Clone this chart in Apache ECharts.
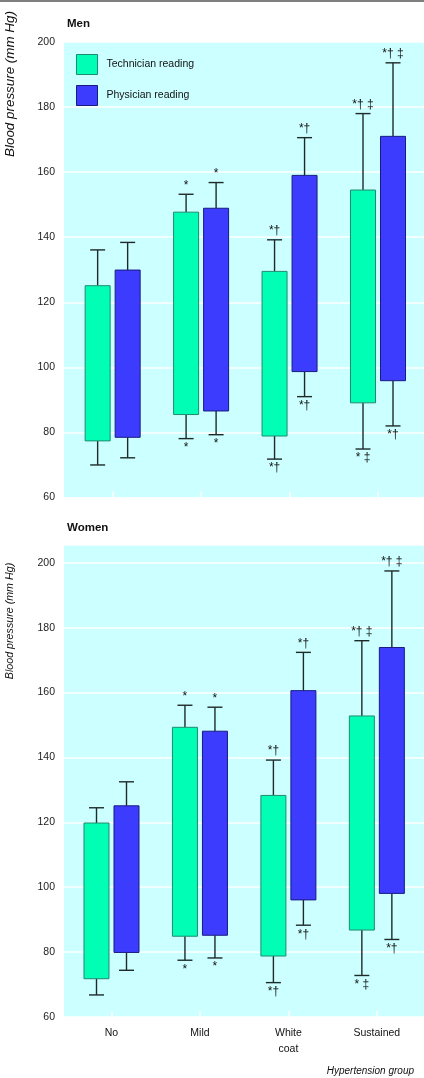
<!DOCTYPE html>
<html>
<head>
<meta charset="utf-8">
<script src="https://cdn.jsdelivr.net/npm/echarts@6/dist/echarts.min.js"></script>
<style>
html,body{margin:0;padding:0;background:#fff;}
#c{width:424px;height:1078px;}
</style>
</head>
<body>
<div id="c"></div>
<script>
const categories = ['No', 'Mild', 'White\ncoat', 'Sustained'];
const yTicks = [60, 80, 100, 120, 140, 160, 180, 200];

// Men: whisker low, box bottom, box top, whisker high
const menTechLow    = [70.0, 78.1, 71.8, 74.9];
const menTechBottom = [77.4, 85.5, 78.9, 89.1];
const menTechTop    = [125.1, 147.7, 129.5, 154.5];
const menTechHigh   = [136.1, 153.2, 139.2, 178.0];
const menPhysLow    = [72.2, 79.3, 91.0, 82.0];
const menPhysBottom = [78.5, 86.6, 98.7, 95.9];
const menPhysTop    = [129.9, 148.9, 159.0, 171.0];
const menPhysHigh   = [138.4, 156.8, 170.6, 193.6];

// Women
const womenTechLow    = [66.8, 77.5, 70.6, 72.8];
const womenTechBottom = [71.8, 84.9, 78.8, 86.8];
const womenTechTop    = [119.8, 149.3, 128.3, 152.8];
const womenTechHigh   = [124.5, 156.1, 139.2, 176.0];
const womenPhysLow    = [74.4, 78.2, 88.3, 83.9];
const womenPhysBottom = [79.9, 85.2, 96.1, 98.1];
const womenPhysTop    = [125.1, 148.1, 160.6, 173.9];
const womenPhysHigh   = [132.5, 155.5, 172.4, 197.5];

// significance marks
const techMarksAbove = ['', '*', '*†', '*† ‡'];
const techMarksBelow = ['', '*', '*†', '* ‡'];
const physMarksAbove = ['', '*', '*†', '*† ‡'];
const physMarksBelow = ['', '*', '*†', '*†'];

const seriesNames = ['Technician reading', 'Physician reading'];

const FONT = "'Liberation Sans', Arial, sans-serif";
const GREEN = '#00ffb4', GREEN_B = '#1f8a6e';
const BLUE = '#3c3cff', BLUE_B = '#1a1a80';
const WHISK = '#1e2a2a';

function rows(low, bottom, top, high) {
  return categories.map((c, i) => [i, low[i], bottom[i], top[i], high[i]]);
}

function makeRender(offset, fill, stroke, above, below) {
  return function (params, api) {
    const i = api.value(0);
    const cx = api.coord([i, api.value(1)])[0] + offset;
    const yLow = api.coord([i, api.value(1)])[1];
    const yBot = api.coord([i, api.value(2)])[1];
    const yTop = api.coord([i, api.value(3)])[1];
    const yHigh = api.coord([i, api.value(4)])[1];
    const hw = 12.5, cap = 7.5;
    const ls = { stroke: WHISK, lineWidth: 1.4 };
    const children = [
      { type: 'line', shape: { x1: cx, y1: yTop, x2: cx, y2: yHigh }, style: ls },
      { type: 'line', shape: { x1: cx - cap, y1: yHigh, x2: cx + cap, y2: yHigh }, style: ls },
      { type: 'line', shape: { x1: cx, y1: yBot, x2: cx, y2: yLow }, style: ls },
      { type: 'line', shape: { x1: cx - cap, y1: yLow, x2: cx + cap, y2: yLow }, style: ls },
      { type: 'rect', shape: { x: cx - hw, y: yTop, width: hw * 2, height: yBot - yTop },
        style: { fill: fill, stroke: stroke, lineWidth: 1 } }
    ];
    const a = above[i], b = below[i];
    if (a) children.push({ type: 'text', x: cx, y: yHigh - 3,
      style: { text: a, align: 'center', verticalAlign: 'bottom', fill: '#111', font: '12px ' + FONT } });
    if (b) children.push({ type: 'text', x: cx, y: yLow + 3,
      style: { text: b, align: 'center', verticalAlign: 'top', fill: '#111', font: '12px ' + FONT } });
    return { type: 'group', children: children };
  };
}

function yAxisCfg(gi, max) {
  return {
    type: 'value', gridIndex: gi, min: 60, max: max, interval: 20,
    axisLine: { show: false }, axisTick: { show: false },
    axisLabel: { margin: 9, color: '#222', fontSize: 10.5, fontFamily: FONT,
      formatter: v => (yTicks.indexOf(v) >= 0 ? String(v) : '') },
    splitLine: { show: true, lineStyle: { color: '#ffffff', width: 1.5 } }
  };
}

function xAxisCfg(gi, min, max, showLabels) {
  return {
    type: 'value', gridIndex: gi, min: min, max: max,
    axisLine: { show: false },
    axisTick: { show: true, inside: true, length: 6, customValues: [0, 1, 2, 3],
      lineStyle: { color: '#ffffff', width: 1.5 } },
    axisLabel: { show: showLabels, customValues: [0, 1, 2, 3], margin: 8,
      color: '#111', fontSize: 10.5, lineHeight: 16, fontFamily: FONT,
      formatter: v => categories[Math.round(v)] },
    splitLine: { show: false }
  };
}

function customSeries(name, gi, data, offset, fill, stroke, above, below) {
  return {
    type: 'custom', name: name, xAxisIndex: gi, yAxisIndex: gi,
    data: data, encode: { x: 0, y: [1, 2, 3, 4] },
    itemStyle: { color: fill, borderColor: stroke, borderWidth: 1 },
    renderItem: makeRender(offset, fill, stroke, above, below),
    z: 3
  };
}

const chart = echarts.init(document.getElementById('c'), null, { renderer: 'canvas' });
chart.setOption({
  animation: false,
  backgroundColor: '#ffffff',
  textStyle: { fontFamily: FONT },
  grid: [
    { left: 64, right: 0, top: 42, height: 455.5, show: true, backgroundColor: '#ccffff', borderWidth: 0 },
    { left: 64, right: 0, top: 545, height: 472, show: true, backgroundColor: '#ccffff', borderWidth: 0 }
  ],
  xAxis: [xAxisCfg(0, -0.550, 3.520, false), xAxisCfg(1, -0.537, 3.533, true)],
  yAxis: [yAxisCfg(0, 200), yAxisCfg(1, 205.5)],
  legend: {
    left: 71, top: 49, orient: 'vertical', itemWidth: 21, itemHeight: 20, itemGap: 10,
    textStyle: { fontSize: 10.5, color: '#111', fontFamily: FONT, padding: [0, 0, 0, 4] },
    data: [
      { name: seriesNames[0], icon: 'rect', itemStyle: { color: GREEN, borderColor: GREEN_B, borderWidth: 1 } },
      { name: seriesNames[1], icon: 'rect', itemStyle: { color: BLUE, borderColor: BLUE_B, borderWidth: 1 } }
    ]
  },
  graphic: [
    { type: 'line', shape: { x1: 0, y1: 1, x2: 424, y2: 1 }, style: { stroke: '#555', lineWidth: 1.5 } },
    { type: 'text', x: 67, y: 24, style: { text: 'Men', font: 'bold 11.5px ' + FONT, fill: '#111', verticalAlign: 'middle' } },
    { type: 'text', x: 67, y: 528, style: { text: 'Women', font: 'bold 11.5px ' + FONT, fill: '#111', verticalAlign: 'middle' } },
    { type: 'text', x: 10, y: 84, rotation: Math.PI / 2,
      style: { text: 'Blood pressure (mm Hg)', font: 'italic 13.4px ' + FONT, fill: '#111', align: 'center', verticalAlign: 'middle' } },
    { type: 'text', x: 10, y: 621, rotation: Math.PI / 2,
      style: { text: 'Blood pressure (mm Hg)', font: 'italic 10.7px ' + FONT, fill: '#111', align: 'center', verticalAlign: 'middle' } },
    { type: 'text', x: 414, y: 1071,
      style: { text: 'Hypertension group', font: 'italic 10px ' + FONT, fill: '#111', align: 'right', verticalAlign: 'middle' } }
  ],
  series: [
    customSeries(seriesNames[0], 0, rows(menTechLow, menTechBottom, menTechTop, menTechHigh), -15, GREEN, GREEN_B, techMarksAbove, techMarksBelow),
    customSeries(seriesNames[1], 0, rows(menPhysLow, menPhysBottom, menPhysTop, menPhysHigh), 15, BLUE, BLUE_B, physMarksAbove, physMarksBelow),
    customSeries(seriesNames[0], 1, rows(womenTechLow, womenTechBottom, womenTechTop, womenTechHigh), -15, GREEN, GREEN_B, techMarksAbove, techMarksBelow),
    customSeries(seriesNames[1], 1, rows(womenPhysLow, womenPhysBottom, womenPhysTop, womenPhysHigh), 15, BLUE, BLUE_B, physMarksAbove, physMarksBelow)
  ]
});
</script>
</body>
</html>
